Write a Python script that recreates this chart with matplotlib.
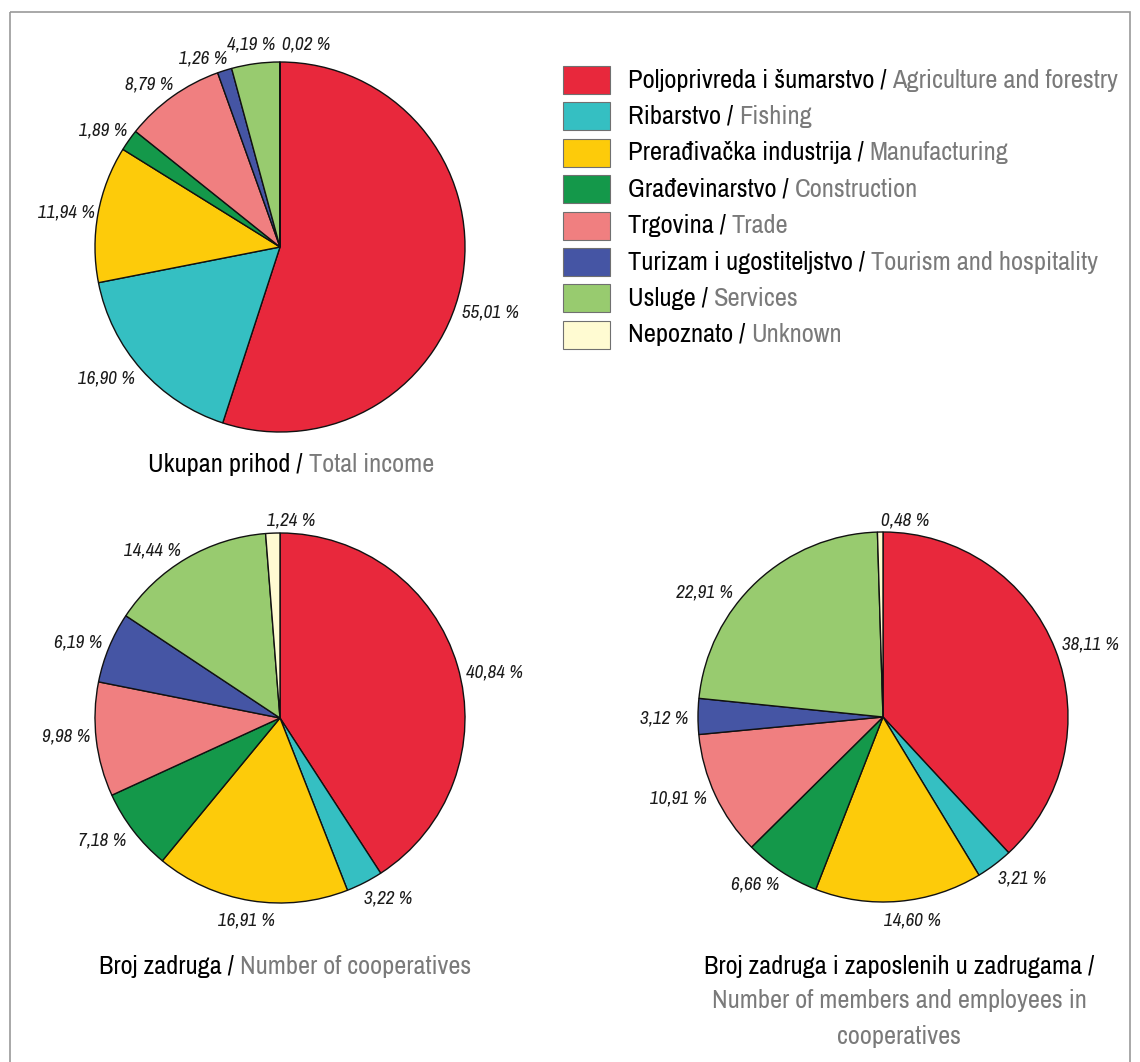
import matplotlib.pyplot as plt
from matplotlib.patches import Rectangle

# sectors, in the order they go clockwise from 12 o'clock
sectors_hr = ["Poljoprivreda i šumarstvo", "Ribarstvo", "Prerađivačka industrija",
              "Građevinarstvo", "Trgovina", "Turizam i ugostiteljstvo", "Usluge", "Nepoznato"]
sectors_en = ["Agriculture and forestry", "Fishing", "Manufacturing", "Construction",
              "Trade", "Tourism and hospitality", "Services", "Unknown"]
colors = ["#E8283C", "#35BFC2", "#FDCB0A", "#14984A", "#F07F80", "#4555A4", "#98CB6F", "#FFFBD2"]

income_share = [55.01, 16.90, 11.94, 1.89, 8.79, 1.26, 4.19, 0.02]
coops_share = [40.84, 3.22, 16.91, 7.18, 9.98, 6.19, 14.44, 1.24]
members_share = [38.11, 3.21, 14.60, 6.66, 10.91, 3.12, 22.91, 0.48]

W, H = 1140, 1062
R = 185  # pie radius in px

# label centres in px, as placed in the original layout
income_lbl = [(491, 312), (107, 379), (66, 213), (103, 130),
              (149, 85), (203, 59), (251, 45), (306, 45)]
coops_lbl = [(494, 672), (388, 898), (246, 920), (102, 841),
             (66, 737), (78, 642), (152, 551), (291, 520)]
members_lbl = [(1090, 644), (1022, 878), (912, 921), (755, 885),
               (678, 799), (664, 719), (705, 592), (905, 520)]

GRAY = "#7a7a7a"
plt.rcParams["font.family"] = ["Archivo Narrow", "Liberation Sans", "DejaVu Sans"]

fig = plt.figure(figsize=(W / 100, H / 100), dpi=100)
renderer = fig.canvas.get_renderer()
# overlay axes in pixel coords for legend, titles and frame
bg = fig.add_axes([0, 0, 1, 1])
bg.set_xlim(0, W)
bg.set_ylim(H, 0)
bg.axis("off")
bg.add_patch(Rectangle((10, 12), 1120, 1080, fill=False, ec="#9a9a9a", lw=1.2))


def fit_size(text, width, **kw):
    # font size that makes `text` about `width` px wide
    t = fig.text(0, 0, text, fontsize=20, **kw)
    w = t.get_window_extent(renderer=renderer).width
    t.remove()
    return 20 * width / w


LEG_SIZE = fit_size("Poljoprivreda i šumarstvo / Agriculture and forestry", 490)
TITLE_SIZE = fit_size("Ukupan prihod / Total income", 285)
PCT_SIZE = fit_size("55,01 %", 57, style="italic")


def draw_pie(values, lbl_pos, cx, cy):
    ax = fig.add_axes([(cx - R) / W, 1 - (cy + R) / H, 2 * R / W, 2 * R / H])
    ax.pie(values, colors=colors, startangle=90, counterclock=False, radius=1,
           wedgeprops=dict(edgecolor="#111111", linewidth=1.0))
    ax.set_xlim(-1, 1)
    ax.set_ylim(-1, 1)
    ax.axis("off")
    for v, (x, y) in zip(values, lbl_pos):
        bg.text(x, y, f"{v:.2f} %".replace(".", ","), ha="center", va="center",
                fontsize=PCT_SIZE, style="italic", color="#1a1a1a")


def two_tone(parts, x, y, size, ha="left"):
    # parts: list of (text, color); drawn side by side
    arts = [bg.text(0, y, t, color=c, fontsize=size, va="center") for t, c in parts]
    widths = [a.get_window_extent(renderer=renderer).width for a in arts]
    x0 = x - sum(widths) / 2 if ha == "center" else x
    for a, w in zip(arts, widths):
        a.set_x(x0)
        x0 += w


draw_pie(income_share, income_lbl, 280, 247)
draw_pie(coops_share, coops_lbl, 280, 718)
draw_pie(members_share, members_lbl, 883, 717)

# legend
for i, (hr, en, c) in enumerate(zip(sectors_hr, sectors_en, colors)):
    y = 80 + i * 36.4
    bg.add_patch(Rectangle((563, y - 14), 47, 28, fc=c, ec="#707070", lw=0.8))
    two_tone([(hr + " / ", "black"), (en, GRAY)], 628, y, LEG_SIZE)

# titles
two_tone([("Ukupan prihod / ", "black"), ("Total income", GRAY)], 291, 465, TITLE_SIZE, ha="center")
two_tone([("Broj zadruga / ", "black"), ("Number of cooperatives", GRAY)], 285, 966, TITLE_SIZE, ha="center")
two_tone([("Broj zadruga i zaposlenih u zadrugama /", "black")], 899, 966, TITLE_SIZE, ha="center")
two_tone([("Number of members and employees in", GRAY)], 899, 1001, TITLE_SIZE, ha="center")
two_tone([("cooperatives", GRAY)], 899, 1036, TITLE_SIZE, ha="center")

fig.savefig("out.png", dpi=100)
